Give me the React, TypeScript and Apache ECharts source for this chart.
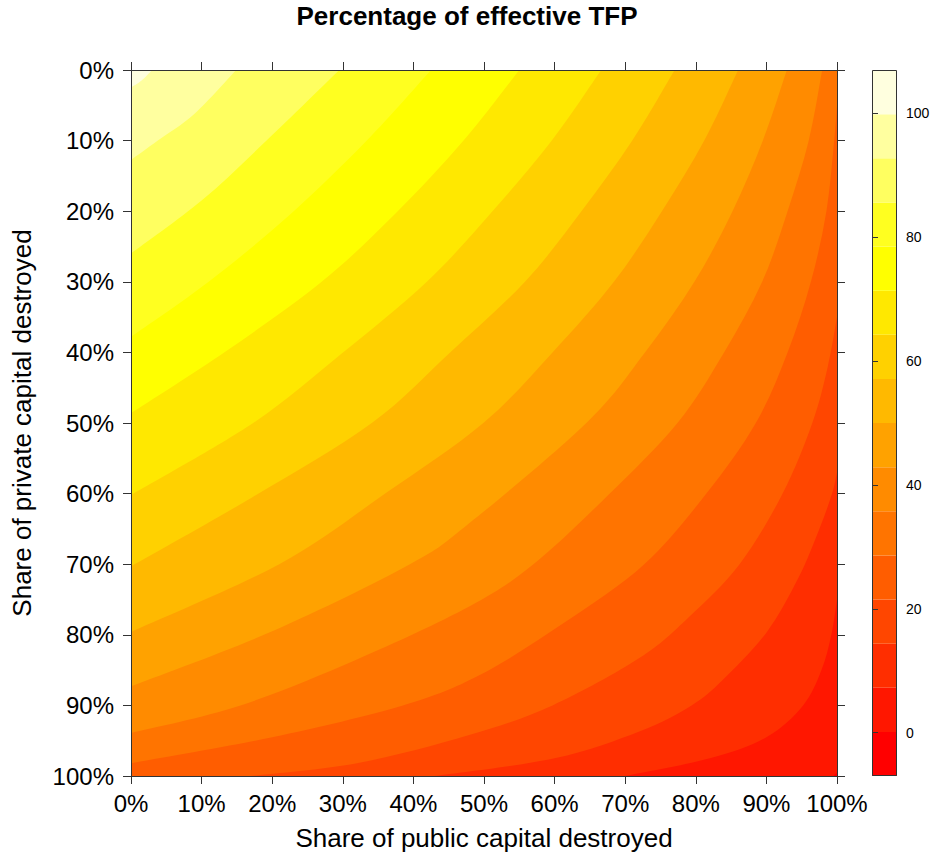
import React, { useEffect, useRef } from "react";
import * as echarts from "echarts";

const TITLE = "Percentage of effective TFP";
const X_TITLE = "Share of public capital destroyed";
const Y_TITLE = "Share of private capital destroyed";

const shareTickLabels = ["0%", "10%", "20%", "30%", "40%", "50%", "60%", "70%", "80%", "90%", "100%"];

// Breaks between colour bands of the key (z range 0..100 padded on both ends)
const levelBreaks = [
  -7, 0.125, 7.25, 14.375, 21.5, 28.625, 35.75, 42.875, 50, 57.125, 64.25, 71.375,
  78.5, 85.625, 92.75, 99.875, 107,
];

// heat palette, lowest band first
const bandColors = [
  "#FF0000", "#FF1700", "#FF2E00", "#FF4600", "#FF5D00", "#FF7400", "#FF8B00", "#FFA200",
  "#FFB900", "#FFD100", "#FFE800", "#FFFF00", "#FFFF20", "#FFFF60", "#FFFF9F", "#FFFFDF",
];

const keyTicks = [0, 20, 40, 60, 80, 100];

// Contour lines: [public share destroyed %, private share destroyed %],
// running from the left/bottom edge to the top/right edge.
const contour_0_125 = [[99.5, 100], [100, 99.5]];
const contour_7_25 = [
  [70, 100], [82, 97.5], [90, 94.5], [95.2, 90], [97.8, 85], [99.2, 80], [100, 75],
];
const contour_14_375 = [
  [43, 100], [60, 97.5], [72, 93.7], [79.4, 90], [83.8, 86.4], [90, 79.7], [94.5, 72],
  [97.5, 65], [99.3, 60], [100, 57],
];
const contour_21_5 = [
  [17, 100], [32, 98.2], [47.9, 94.2], [59.7, 90], [72, 83.3], [79, 77.5], [86.2, 70],
  [92.3, 60], [96.5, 50], [98.7, 42], [100, 35],
];
const contour_28_625 = [
  [0, 98.2], [20, 94.5], [38.5, 90], [49.4, 85.7], [61.5, 78.2], [72.7, 70], [81.5, 60],
  [88.5, 50], [93, 40], [96.3, 30], [98.5, 20], [99.6, 10], [100, 5],
];
const contour_35_75 = [
  [0, 93.9], [15.5, 90], [32, 83.5], [47.9, 76], [57, 70], [67.6, 60.2], [77.4, 50],
  [84, 40], [89.4, 30], [93, 20], [96, 10], [97.9, 0],
];
const contour_42_875 = [
  [0, 87.3], [20, 79.5], [39.5, 70], [47.9, 64.2], [64.5, 50], [72.8, 40], [79.8, 30],
  [85.2, 20], [89.5, 10], [92.9, 0],
];
const contour_50 = [
  [0, 79.6], [21, 70], [36, 60], [49.9, 50], [59.7, 40], [68.4, 30], [75.2, 20], [81.2, 10],
  [86, 0],
];
const contour_57_125 = [
  [0, 70.3], [17.2, 60.5], [34.1, 50], [45.2, 40], [55.8, 30], [63.8, 20], [71, 10], [77, 0],
];
const contour_64_25 = [
  [0, 60.2], [17.3, 50], [29.8, 40.2], [41.9, 30], [51.2, 20], [59.6, 10], [66.6, 0],
];
const contour_71_375 = [[0, 48.6], [13.5, 39.8], [27, 30], [37.5, 20.3], [47.1, 10], [55, 0]];
const contour_78_5 = [[0, 37.8], [11, 30], [22.5, 20.5], [33.4, 10], [42.5, 0]];
const contour_85_625 = [[0, 26], [10, 18.5], [19.2, 10], [29.5, 0]];
const contour_92_75 = [[0, 12.75], [3.8, 10], [9, 6.2], [14.9, 0]];
const contour_99_875 = [[0, 2.5], [1.5, 1.5], [3, 0]];

const contourLines = [
  contour_0_125, contour_7_25, contour_14_375, contour_21_5, contour_28_625, contour_35_75,
  contour_42_875, contour_50, contour_57_125, contour_64_25, contour_71_375, contour_78_5,
  contour_85_625, contour_92_75, contour_99_875,
];

const FONT = "'Liberation Sans', Arial, Helvetica, sans-serif";
const AXIS_COLOR = "#333";

function renderField(params: any, api: any) {
  const k = api.value(0) as number;
  const a = api.coord([0, 0]);
  const b = api.coord([100, 100]);
  const xMin = Math.min(a[0], b[0]);
  const xMax = Math.max(a[0], b[0]);
  const yMin = Math.min(a[1], b[1]);
  const yMax = Math.max(a[1], b[1]);
  if (k === 0) {
    return {
      type: "rect",
      shape: { x: xMin, y: yMin, width: xMax - xMin, height: yMax - yMin },
      style: { fill: bandColors[0] },
    };
  }
  const line = contourLines[k - 1];
  const pts = line.map((p) => api.coord(p) as number[]);
  const clamp = (p: number[]) => [
    Math.min(xMax, Math.max(xMin, p[0])),
    Math.min(yMax, Math.max(yMin, p[1])),
  ];
  // Catmull-Rom spline through the contour points, drawn as cubic Béziers
  let d = `M${pts[0][0]},${pts[0][1]}`;
  for (let i = 0; i < pts.length - 1; i++) {
    const p0 = pts[i - 1] || pts[i];
    const p1 = pts[i];
    const p2 = pts[i + 1];
    const p3 = pts[i + 2] || pts[i + 1];
    const c1 = clamp([p1[0] + (p2[0] - p0[0]) / 6, p1[1] + (p2[1] - p0[1]) / 6]);
    const c2 = clamp([p2[0] - (p3[0] - p1[0]) / 6, p2[1] - (p3[1] - p1[1]) / 6]);
    d += ` C${c1[0]},${c1[1]} ${c2[0]},${c2[1]} ${p2[0]},${p2[1]}`;
  }
  const first = line[0];
  const last = line[line.length - 1];
  if (last[0] >= 100) {
    const c = api.coord([100, 0]);
    d += ` L${c[0]},${c[1]}`;
  }
  const o = api.coord([0, 0]);
  d += ` L${o[0]},${o[1]}`;
  if (first[1] >= 100) {
    const c = api.coord([0, 100]);
    d += ` L${c[0]},${c[1]}`;
  }
  d += " Z";
  return { type: "path", shape: { pathData: d }, style: { fill: bandColors[k] } };
}

function renderKeyBand(params: any, api: any) {
  const k = api.value(0) as number;
  const p = api.coord([0, levelBreaks[k + 1]]);
  const q = api.coord([1, levelBreaks[k]]);
  return {
    type: "rect",
    shape: { x: p[0], y: p[1], width: q[0] - p[0], height: q[1] - p[1] },
    style: { fill: bandColors[k] },
  };
}

function renderKeyFrame(params: any, api: any) {
  const p = api.coord([0, levelBreaks[levelBreaks.length - 1]]);
  const q = api.coord([1, levelBreaks[0]]);
  return {
    type: "rect",
    shape: { x: p[0] + 0.5, y: p[1] + 0.5, width: q[0] - p[0] - 1, height: q[1] - p[1] - 1 },
    style: { fill: "none", stroke: AXIS_COLOR, lineWidth: 1 },
  };
}

function shareLabel(v: number) {
  const i = Math.round(v / 10);
  return shareTickLabels[i] ?? "";
}

function mainAxis(extra: any) {
  return {
    type: "value",
    gridIndex: 0,
    min: 0,
    max: 100,
    interval: 10,
    z: 5,
    axisLine: { show: true, onZero: false, lineStyle: { color: AXIS_COLOR, width: 1 } },
    axisTick: { show: true, inside: false, length: 8, lineStyle: { color: AXIS_COLOR, width: 1 } },
    splitLine: { show: false },
    ...extra,
  };
}

export default function App() {
  const ref = useRef<HTMLDivElement>(null);

  useEffect(() => {
    document.body.style.margin = "0";
    if (!ref.current) return;
    const chart = echarts.init(ref.current, null, { renderer: "svg" });
    const fieldData = bandColors.map((_, i) => [i]);
    const keyData = bandColors.map((_, i) => [i]);

    chart.setOption({
      animation: false,
      backgroundColor: "#ffffff",
      grid: [
        { left: 131, top: 70, width: 706, height: 706 },
        { left: 872, top: 70, width: 25, height: 706 },
      ],
      xAxis: [
        mainAxis({
          position: "bottom",
          axisLabel: {
            show: true,
            fontSize: 24,
            color: "#000",
            fontFamily: FONT,
            margin: 15,
            formatter: shareLabel,
          },
        }),
        mainAxis({ position: "top", axisLabel: { show: false } }),
        {
          type: "value",
          gridIndex: 1,
          min: 0,
          max: 1,
          show: false,
        },
      ],
      yAxis: [
        mainAxis({
          position: "left",
          inverse: true,
          axisLabel: {
            show: true,
            fontSize: 24,
            color: "#000",
            fontFamily: FONT,
            margin: 17,
            formatter: shareLabel,
          },
        }),
        mainAxis({ position: "right", inverse: true, axisLabel: { show: false } }),
        {
          type: "value",
          gridIndex: 1,
          position: "right",
          min: -7,
          max: 107,
          z: 5,
          axisLine: { show: false },
          axisTick: {
            show: true,
            inside: false,
            length: 6,
            customValues: keyTicks,
            lineStyle: { color: AXIS_COLOR },
          },
          axisLabel: {
            show: true,
            customValues: keyTicks,
            fontSize: 14,
            color: "#000",
            fontFamily: FONT,
            margin: 9,
          },
          splitLine: { show: false },
        },
      ],
      graphic: [
        {
          type: "text",
          x: 467,
          y: 16,
          style: {
            text: TITLE,
            fontSize: 26,
            fontWeight: "bold",
            fontFamily: FONT,
            fill: "#000",
            align: "center",
            verticalAlign: "middle",
          },
        },
        {
          type: "text",
          x: 484,
          y: 838,
          style: {
            text: X_TITLE,
            fontSize: 26,
            fontFamily: FONT,
            fill: "#000",
            align: "center",
            verticalAlign: "middle",
          },
        },
        {
          type: "text",
          x: 22,
          y: 423,
          rotation: Math.PI / 2,
          style: {
            text: Y_TITLE,
            fontSize: 26,
            fontFamily: FONT,
            fill: "#000",
            align: "center",
            verticalAlign: "middle",
          },
        },
      ],
      series: [
        {
          type: "custom",
          name: "field",
          xAxisIndex: 0,
          yAxisIndex: 0,
          renderItem: renderField,
          data: fieldData,
          z: 2,
          silent: true,
        },
        {
          type: "custom",
          name: "key",
          xAxisIndex: 2,
          yAxisIndex: 2,
          renderItem: renderKeyBand,
          data: keyData,
          z: 2,
          silent: true,
        },
        {
          type: "custom",
          name: "keyFrame",
          xAxisIndex: 2,
          yAxisIndex: 2,
          renderItem: renderKeyFrame,
          data: [[0]],
          z: 6,
          silent: true,
        },
      ],
    });

    return () => {
      chart.dispose();
    };
  }, []);

  return <div ref={ref} style={{ width: 935, height: 857 }} />;
}
